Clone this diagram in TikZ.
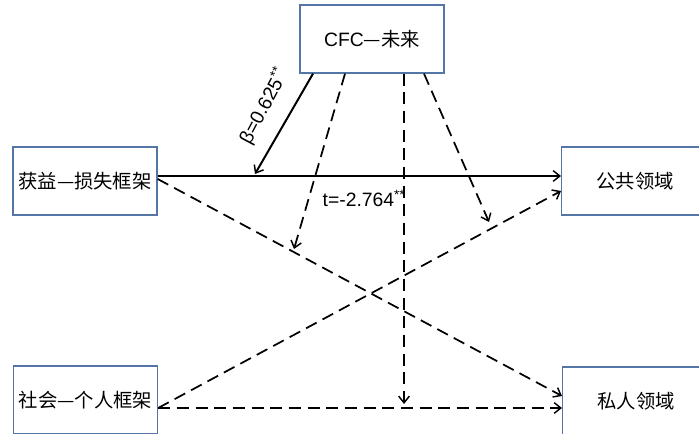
\documentclass[tikz,border=0pt]{standalone}
\usepackage{fontspec}
\setmainfont{Liberation Sans}
\newfontfamily\cjk{Noto Sans CJK SC}
\usetikzlibrary{arrows.meta,calc}
\definecolor{boxblue}{RGB}{84,117,165}
\begin{document}
\begin{tikzpicture}[x=0.75pt,y=-0.75pt,
  box/.style={draw=boxblue,line width=1pt,fill=white,inner sep=0pt,
    minimum width=108pt,minimum height=51pt,font=\fontsize{14.5}{16}\selectfont},
  tip/.style={-{Straight Barb[length=5pt,width=8pt,line width=1.1pt]}},
  solidarr/.style={draw=black,line width=1.5pt,tip},
  dasharr/.style={draw=black,line width=1.3pt,dash pattern=on 9pt off 5pt,tip},
  lbl/.style={font=\fontsize{14.5}{16}\selectfont,inner sep=1pt}]
\useasboundingbox (0,0) rectangle (699,434);
\fill[white] (0,0) rectangle (699,434);
\clip (0,0) rectangle (699,434);

% boxes
\node[box] (cfc)  at (372,39)  {CFC{\cjk —未来}};
\node[box] (gain) at (85,181)  {\cjk 获益—损失框架};
\node[box,minimum width=110pt] (pub)  at (635,181) {\cjk 公共领域};
\node[box] (soc)  at (85.5,400) {\cjk 社会—个人框架};
\node[box,minimum width=110pt] (priv) at (636,401) {\cjk 私人领域};

% arrow end points on lines
\coordinate (e1) at (255,174);
\coordinate (e2) at (294,249);
\coordinate (e3) at (404,404);
\coordinate (e4) at (489,222);

% main horizontal and crossing paths
\draw[solidarr] ($(gain.east)+(0,-5)$) -- ($(pub.west)+(0,-5)$);
\draw[dasharr] ($(gain.east)+(0,-2)$) -- ($(priv.west)+(0,-5)$);
\draw[dasharr] ($(soc.east)+(0,8)$) -- ($(pub.west)+(0,10)$);
\draw[dasharr] ($(soc.east)+(0,8)$) -- ($(priv.west)+(0,7)$);

% moderator arrows
\draw[solidarr] ($(cfc.south)+(-59,0)$) -- (e1);
\draw[dasharr] ($(cfc.south)+(-27,0)$) -- (e2);
\draw[dasharr] ($(cfc.south)+(32,0)$) -- (e3);
\draw[dasharr] ($(cfc.south)+(52,0)$) -- (e4);

% labels
\node[lbl,rotate=62] (beta) at (264,106) {β=0.625\textsuperscript{**}};
\node[lbl] (tval) at (364,198) {t=-2.764\textsuperscript{**}};
\end{tikzpicture}
\end{document}
